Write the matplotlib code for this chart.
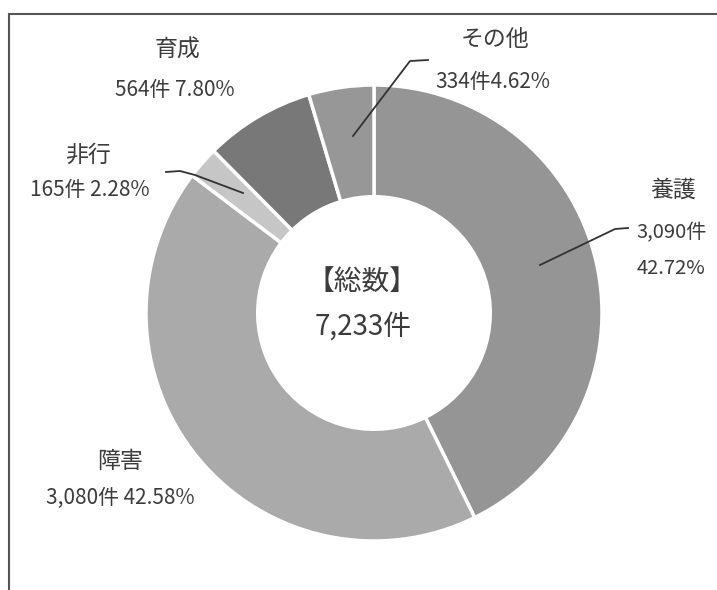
import matplotlib.pyplot as plt
from matplotlib.patches import Rectangle

plt.rcParams['font.family'] = ['Noto Sans CJK JP', 'DejaVu Sans']

# データ
labels = ["養護", "障害", "非行", "育成", "その他"]
counts = [3090, 3080, 165, 564, 334]
percents = ["42.72%", "42.58%", "2.28%", "7.80%", "4.62%"]
colors = ["#959595", "#aaaaaa", "#c6c6c6", "#787878", "#979797"]
total = "7,233件"

W, H = 717, 590
fig = plt.figure(figsize=(W / 100, H / 100), dpi=100)
ax = fig.add_axes([0, 0, 1, 1])

def py(y):
    # 画像の上からのピクセル位置を座標に変換
    return H - y

# 枠線
ax.add_patch(Rectangle((9, -20), W + 20, py(14) + 20, fill=False,
                       edgecolor="#555555", linewidth=1.5))

cx, cy, r = 374, py(313), 228
ax.pie(counts, colors=colors, startangle=90, counterclock=False,
       center=(cx, cy), radius=r, frame=True,
       wedgeprops=dict(width=r * 0.49, edgecolor="white", linewidth=2.5))
ax.set_xlim(0, W)
ax.set_ylim(0, H)
ax.set_aspect("equal")
ax.axis("off")

tc = "#3c3c3c"
lab = 16.5
num = 15
lc = "#333333"

# 養護
ax.text(673, py(190), labels[0], ha="center", va="center", fontsize=lab, color=tc)
ax.text(672, py(233), f"{counts[0]:,}件", ha="center", va="center", fontsize=14.5, color=tc)
ax.text(671, py(268), percents[0], ha="center", va="center", fontsize=14.5, color=tc)
ax.plot([540, 615, 628], [py(265), py(229), py(228)], color=lc, lw=1.3)

# 障害
ax.text(120, py(462), labels[1], ha="center", va="center", fontsize=lab, color=tc)
ax.text(120, py(498), f"{counts[1]:,}件 {percents[1]}", ha="center", va="center",
        fontsize=num, color=tc)

# 非行
ax.text(88, py(155), labels[2], ha="center", va="center", fontsize=lab, color=tc)
ax.text(90, py(190), f"{counts[2]:,}件 {percents[2]}", ha="center", va="center",
        fontsize=num, color=tc)
ax.plot([166, 180, 195, 243], [py(172), py(171), py(175), py(193)], color=lc, lw=1.3)

# 育成
ax.text(178, py(50), labels[3], ha="center", va="center", fontsize=lab, color=tc)
ax.text(175, py(90), f"{counts[3]:,}件 {percents[3]}", ha="center", va="center",
        fontsize=num, color=tc)

# その他
ax.text(495, py(40), labels[4], ha="center", va="center", fontsize=lab, color=tc)
ax.text(493, py(82), f"{counts[4]:,}件{percents[4]}", ha="center", va="center",
        fontsize=num, color=tc)
ax.plot([353, 410, 428], [py(136), py(61), py(60)], color=lc, lw=1.3)

# 中央
ax.text(362, py(282), "【総数】", ha="center", va="center", fontsize=20, color=tc)
ax.text(363, py(327), total, ha="center", va="center", fontsize=20, color=tc)

fig.savefig("out.png", dpi=100)
